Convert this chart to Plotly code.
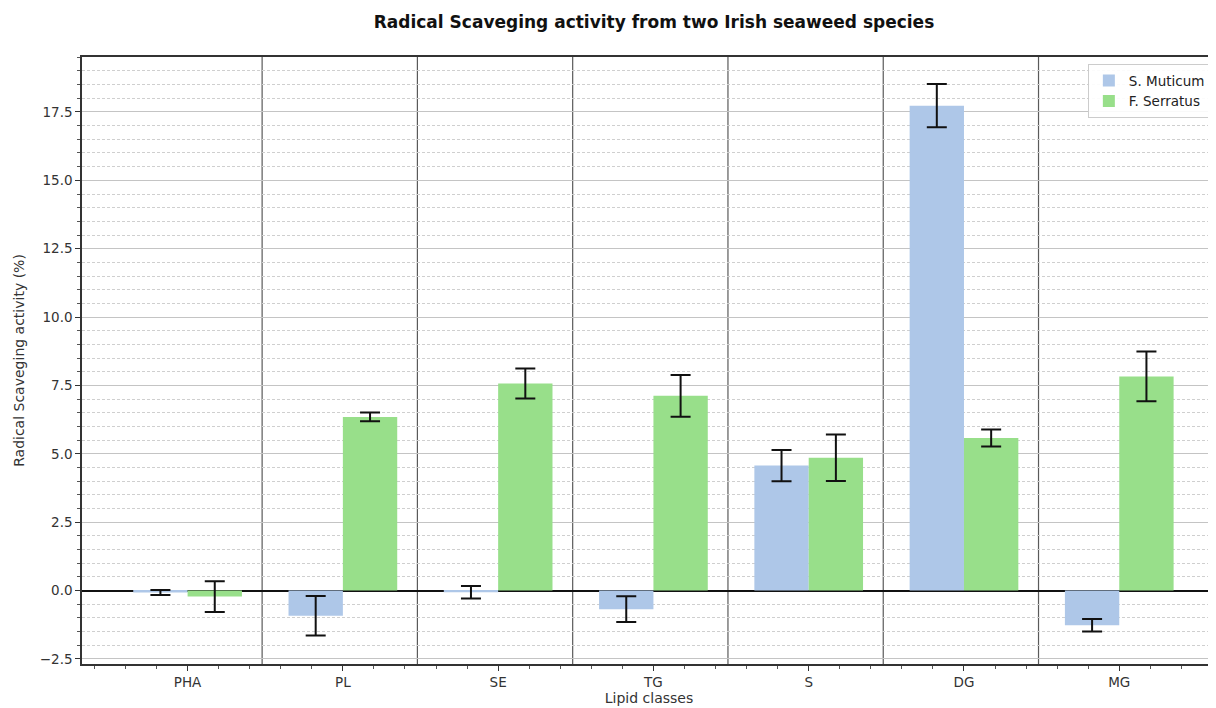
import plotly.graph_objects as go

categories = ["PHA", "PL", "SE", "TG", "S", "DG", "MG"]
muticum = [-0.07, -0.92, -0.06, -0.68, 4.57, 17.73, -1.27]
muticum_err = [0.09, 0.72, 0.23, 0.47, 0.57, 0.79, 0.23]
serratus = [-0.22, 6.35, 7.57, 7.12, 4.86, 5.58, 7.83]
serratus_err = [0.56, 0.16, 0.55, 0.76, 0.85, 0.31, 0.91]
separators = [0.48, 1.48, 2.48, 3.48, 4.48, 5.48]

FONT = "DejaVu Sans"
x_idx = list(range(len(categories)))

# page body has an 8px default margin; size the figure to fill the 1216x708 window
W, H = 1208, 700

fig = go.Figure()
fig.add_trace(go.Bar(
    x=x_idx, y=muticum, name="S. Muticum", marker=dict(color="#aec7e8", line=dict(width=0)),
    error_y=dict(type="data", array=muticum_err, color="#111111", thickness=2, width=10),
))
fig.add_trace(go.Bar(
    x=x_idx, y=serratus, name="F. Serratus", marker=dict(color="#98df8a", line=dict(width=0)),
    error_y=dict(type="data", array=serratus_err, color="#111111", thickness=2, width=10),
))

for s in separators:
    fig.add_shape(type="line", xref="x", yref="paper", x0=s, x1=s, y0=0, y1=1,
                  line=dict(color="#5a5a5a", width=1.2), layer="between")

fig.update_layout(
    width=W, height=H,
    margin=dict(l=74, r=0, t=49, b=44),
    paper_bgcolor="white", plot_bgcolor="white",
    barmode="group", bargap=0.3, bargroupgap=0,
    font=dict(family=FONT, size=13, color="#333333"),
    title=dict(text="<b>Radical Scaveging activity from two Irish seaweed species</b>",
               x=646 / W, xanchor="center", xref="container",
               y=1 - 14 / H, yanchor="middle", yref="container",
               font=dict(family=FONT, size=17, color="#111111")),
    legend=dict(x=0.887, y=0.988, xanchor="left", yanchor="top",
                bgcolor="rgba(255,255,255,0.9)", bordercolor="#cccccc", borderwidth=1,
                font=dict(family=FONT, size=13.5, color="#222222"),
                itemwidth=30, tracegroupgap=2),
    showlegend=True,
)

fig.update_xaxes(
    range=[-0.68, 6.623],
    tickmode="array", tickvals=x_idx, ticktext=categories,
    ticks="outside", ticklen=5, tickcolor="#333333", tickwidth=1,
    showgrid=False, zeroline=False,
    showline=True, linecolor="#333333", linewidth=1.5, mirror=True,
    tickfont=dict(family=FONT, size=13.5, color="#333333"),
    minor=dict(dtick=0.2, tick0=0, ticks="outside", ticklen=3, tickcolor="#555555", showgrid=False),
    title=dict(text="Lipid classes", font=dict(family=FONT, size=14, color="#333333"), standoff=3),
)
fig.update_yaxes(
    range=[-2.685, 19.51],
    dtick=2.5, tick0=0, tickformat=".1f",
    ticks="outside", ticklen=5, tickcolor="#333333", tickwidth=1,
    showgrid=True, gridcolor="#c4c4c4", gridwidth=1.2,
    zeroline=True, zerolinecolor="#111111", zerolinewidth=2,
    showline=True, linecolor="#333333", linewidth=1.5, mirror=False,
    tickfont=dict(family=FONT, size=13.5, color="#333333"),
    minor=dict(dtick=0.5, tick0=0, ticks="outside", ticklen=3, tickcolor="#555555",
               showgrid=True, gridcolor="#cfcfcf", griddash="3px,2px", gridwidth=1),
    title=dict(text="Radical Scaveging activity (%)", font=dict(family=FONT, size=14, color="#333333"), standoff=12),
)

fig.write_html("out.html")
